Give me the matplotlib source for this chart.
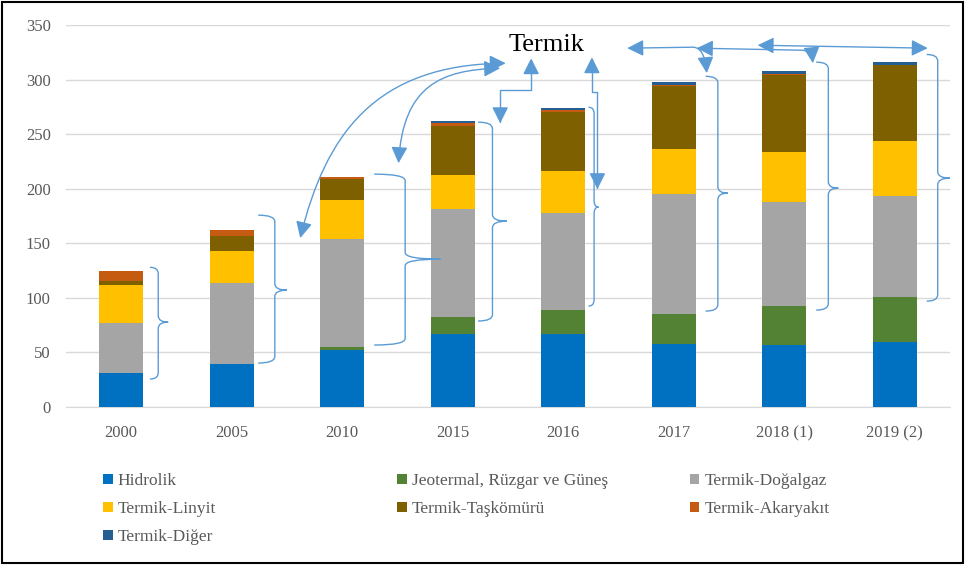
import numpy as np
import matplotlib
matplotlib.use("Agg")
from matplotlib import pyplot as plt
from matplotlib.path import Path
from matplotlib.patches import FancyArrowPatch, PathPatch, Rectangle

# Electricity production by source (TWh)
years = ["2000", "2005", "2010", "2015", "2016", "2017", "2018 (1)", "2019 (2)"]
hidrolik = [30.9, 39.6, 51.8, 67.1, 67.2, 58.2, 57.0, 60.0]
yenilenebilir = [0.1, 0.2, 3.6, 15.3, 21.3, 26.9, 36.0, 41.0]
dogalgaz = [46.2, 73.4, 98.1, 99.2, 89.2, 110.5, 95.0, 92.0]
linyit = [34.4, 29.9, 35.9, 31.3, 38.6, 40.7, 46.0, 51.0]
taskomuru = [3.8, 13.2, 19.1, 44.8, 53.7, 57.9, 70.0, 69.0]
akaryakit = [9.3, 5.5, 2.2, 2.2, 1.9, 1.2, 1.3, 0.6]
diger = [0.2, 0.1, 0.5, 1.8, 2.4, 2.0, 2.2, 2.8]

series_names = ["Hidrolik", "Jeotermal, Rüzgar ve Güneş", "Termik-Doğalgaz",
                "Termik-Linyit", "Termik-Taşkömürü", "Termik-Akaryakıt", "Termik-Diğer"]
series_vals = [hidrolik, yenilenebilir, dogalgaz, linyit, taskomuru, akaryakit, diger]
colors = ["#0070C0", "#548235", "#A5A5A5", "#FFC000", "#7F6000", "#C55A11", "#255E91"]

SERIF = "Liberation Serif"
TXT = "#595959"
BLUE = "#5B9BD5"

fig = plt.figure(figsize=(9.66, 5.65), dpi=100)
ax = fig.add_axes([0.0683, 0.2796, 0.915, 0.6761])

x = np.arange(len(years))
bottom = np.zeros(len(years))
handles = []
for name, vals, c in zip(series_names, series_vals, colors):
    b = ax.bar(x, vals, 0.4, bottom=bottom, color=c, label=name, zorder=3)
    handles.append(b)
    bottom += np.array(vals)

ax.set_xlim(-0.5, 7.5)
ax.set_ylim(0, 350)
ax.set_yticks(np.arange(0, 351, 50))
ax.set_xticks(x)
ax.set_xticklabels(years)
ax.grid(axis="y", color="#D9D9D9", lw=1, zorder=0)
ax.tick_params(length=0, labelsize=12, labelcolor=TXT)
ax.tick_params(axis="y", pad=11)
ax.tick_params(axis="x", pad=13)
for lab in ax.get_xticklabels() + ax.get_yticklabels():
    lab.set_fontfamily(SERIF)
for s in ["top", "right", "left"]:
    ax.spines[s].set_visible(False)
ax.spines["bottom"].set_color("#D9D9D9")

# "Termik" label
ax.text(3.85, 326, "Termik", family=SERIF, fontsize=19, ha="center", va="baseline", color="black")


# curly braces next to the bars: (end x, vertical x, tip x, top y, bottom y, tip y)
braces = [
    (0.26, 0.335, 0.425, 128, 25.6, 77.8),
    (1.24, 1.39, 1.50, 175.8, 40.3, 107.1),
    (2.29, 2.57, 2.89, 213.4, 56.8, 135.5),
    (3.23, 3.36, 3.49, 261, 78.8, 170.3),
    (4.23, 4.28, 4.32, 274.7, 92.5, 183.2),
    (5.29, 5.40, 5.49, 303, 87.9, 196),
    (6.29, 6.40, 6.49, 316, 88.8, 200.5),
    (7.29, 7.39, 7.50, 323, 97, 209.7),
]
for e, v, t, yt, yb, ym in braces:
    r = 6
    verts = [(e, yt), (v, yt), (v, yt - r), (v, ym + r), (v, ym), (t, ym),
             (v, ym), (v, ym - r), (v, yb + r), (v, yb), (e, yb)]
    codes = [Path.MOVETO, Path.CURVE3, Path.CURVE3, Path.LINETO, Path.CURVE3, Path.CURVE3,
             Path.CURVE3, Path.CURVE3, Path.LINETO, Path.CURVE3, Path.CURVE3]
    ax.add_patch(PathPatch(Path(verts, codes), fill=False, edgecolor=BLUE, lw=1, zorder=4,
                           clip_on=False))


def arrow(verts, codes, style):
    p = FancyArrowPatch(path=Path(verts, codes), arrowstyle=style, mutation_scale=11,
                        color=BLUE, lw=1, zorder=5, clip_on=False, shrinkA=0, shrinkB=0)
    ax.add_patch(p)


both = "<|-|>,head_length=0.9,head_width=0.45"
C4 = [Path.MOVETO, Path.CURVE4, Path.CURVE4, Path.CURVE4]
C3L = [Path.MOVETO, Path.LINETO, Path.CURVE3, Path.CURVE3]
# curved arrows toward "Termik"
arrow([(1.62, 154.8), (1.85, 250), (2.3, 314), (3.48, 315)], C4, both)
arrow([(2.51, 223.4), (2.55, 295), (2.9, 309), (3.43, 310.4)], C4, both)
# elbow arrows
arrow([(3.71, 319.6), (3.71, 290.3), (3.43, 290.3), (3.43, 260)],
      [Path.MOVETO, Path.LINETO, Path.LINETO, Path.LINETO], both)
arrow([(4.26, 320.5), (4.26, 288.5), (4.31, 288.5), (4.31, 199.6)],
      [Path.MOVETO, Path.LINETO, Path.LINETO, Path.LINETO], both)
# top arrows
arrow([(4.58, 328.8), (5.18, 329.7), (5.28, 329), (5.30, 305.9)], C3L, both)
arrow([(5.21, 328.8), (6.17, 326.9), (6.25, 326), (6.26, 315)], C3L, both)
arrow([(5.76, 331.5), (7.30, 328.8)], [Path.MOVETO, Path.LINETO], both)

# legend, three columns laid out row-wise
cols = [[0, 3, 6], [1, 4], [2, 5]]
col_x = [0.1066, 0.411, 0.714]
for xs, idx in zip(col_x, cols):
    leg = fig.legend([handles[i] for i in idx], [series_names[i] for i in idx],
                     loc="upper left", bbox_to_anchor=(xs, 0.163), frameon=False,
                     prop={"family": SERIF, "size": 12.5}, labelcolor=TXT,
                     handlelength=0.55, handleheight=0.5, handletextpad=0.3,
                     labelspacing=0.7, borderaxespad=0, borderpad=0)

# outer frame
fig.patches.append(Rectangle((0.002, 0.003), 0.995, 0.993, transform=fig.transFigure,
                             fill=False, edgecolor="black", lw=1.5))

fig.savefig("out.png", dpi=100)
